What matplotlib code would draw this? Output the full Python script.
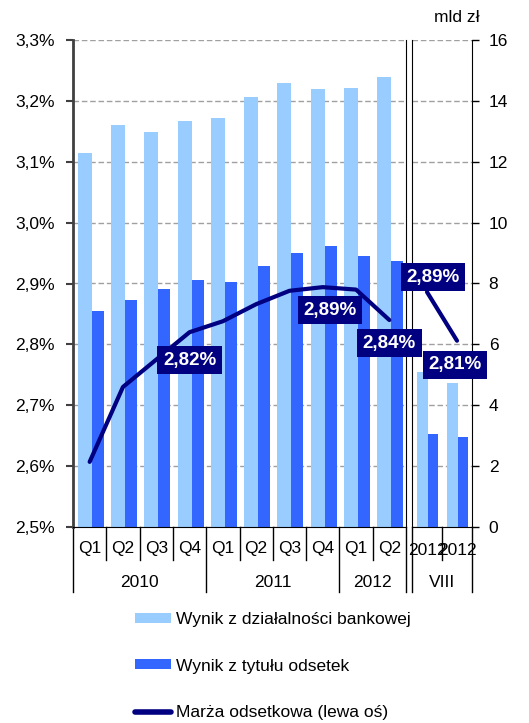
import matplotlib
matplotlib.use("Agg")
import matplotlib.pyplot as plt
import matplotlib.transforms as mtransforms
from matplotlib.patches import Patch
from matplotlib.lines import Line2D

plt.rcParams['font.family'] = ['Liberation Sans', 'DejaVu Sans']

# quarterly data 2010-2012
quarters = ["Q1", "Q2", "Q3", "Q4", "Q1", "Q2", "Q3", "Q4", "Q1", "Q2"]
years = ["2010", "2011", "2012"]
bank_result = [12.29, 13.21, 12.98, 13.34, 13.44, 14.13, 14.59, 14.39, 14.42, 14.78]
interest_result = [7.10, 7.46, 7.82, 8.11, 8.05, 8.57, 9.00, 9.23, 8.90, 8.74]
margin = [2.607, 2.730, 2.775, 2.820, 2.838, 2.866, 2.888, 2.894, 2.890, 2.840]

# monthly data, August (2011 and 2012)
viii_labels = ["2012", "2012"]
viii_bank = [5.09, 4.73]
viii_interest = [3.06, 2.96]
viii_margin = [2.886, 2.806]

LIGHT = "#99ccff"
DARK = "#3366ff"
NAVY = "#000080"
GRID = "#a0a0a0"
FS = 12.5

W, H = 529, 723
fig = plt.figure(figsize=(W / 100, H / 100), dpi=100)


def rect(x0, y0, x1, y1):
    return [x0 / W, 1 - y1 / H, (x1 - x0) / W, (y1 - y0) / H]


ax = fig.add_axes(rect(73, 40, 406, 527))
axm = ax.twinx()
axr = fig.add_axes(rect(412, 40, 472, 527))
axrm = axr.twinx()

# bars
x = list(range(len(quarters)))
ax.bar([i - 0.36 for i in x], bank_result, width=0.42, align='edge', color=LIGHT, zorder=2)
ax.bar([i + 0.06 for i in x], interest_result, width=0.36, align='edge', color=DARK, zorder=2)
xr = list(range(len(viii_labels)))
axr.bar([i - 0.33 for i in xr], viii_bank, width=0.36, align='edge', color=LIGHT, zorder=2)
axr.bar([i + 0.03 for i in xr], viii_interest, width=0.34, align='edge', color=DARK, zorder=2)

for a in (ax, axr):
    a.set_ylim(0, 16)
    a.set_yticks(range(0, 17, 2))
    a.set_axisbelow(True)
    a.grid(axis='y', linestyle=(0, (4, 2)), color=GRID, linewidth=1)
    a.set_xticks([])
    a.spines['top'].set_visible(False)
    a.spines['bottom'].set_color('black')
ax.set_xlim(-0.5, len(quarters) - 0.5)
axr.set_xlim(-0.5, len(viii_labels) - 0.5)

ax.tick_params(axis='y', left=False, right=False, labelleft=False, labelright=False)
ax.spines['left'].set_color('#404040')
ax.spines['left'].set_linewidth(2)
ax.spines['right'].set_color('black')

axr.yaxis.tick_right()
axr.tick_params(axis='y', direction='out', length=5, width=1, pad=7, labelsize=FS, colors='black')
axr.spines['left'].set_color('black')
axr.spines['right'].set_color('black')

# margin line, left scale
for a in (axm, axrm):
    a.set_ylim(2.5, 3.3)
    for s in a.spines.values():
        s.set_visible(False)
axm.yaxis.tick_left()
axm.set_yticks([2.5 + 0.1 * k for k in range(9)])
axm.set_yticklabels([f"{2.5 + 0.1 * k:.1f}%".replace(".", ",") for k in range(9)])
axm.tick_params(axis='y', direction='out', length=5, width=1.5, pad=8, labelsize=FS, color='#404040')
axrm.tick_params(axis='y', left=False, right=False, labelleft=False, labelright=False)

axm.plot(x, margin, color=NAVY, linewidth=3, solid_capstyle='round', solid_joinstyle='round')
axrm.plot(xr, viii_margin, color=NAVY, linewidth=3, solid_capstyle='round', solid_joinstyle='round')

# category separators and labels under the axes
def separators(a, bounds_short, bounds_long):
    tr = mtransforms.blended_transform_factory(a.transData, a.transAxes)
    for b in bounds_short:
        a.plot([b, b], [0, -0.068], transform=tr, color='black', lw=1, clip_on=False)
    for b in bounds_long:
        a.plot([b, b], [0, -0.134], transform=tr, color='black', lw=1, clip_on=False)
    return tr


tr = separators(ax, [0.5, 1.5, 2.5, 4.5, 5.5, 6.5, 8.5], [-0.5, 3.5, 7.5, 9.5])
for i, q in enumerate(quarters):
    ax.text(i, -0.045, q, transform=tr, ha='center', va='center', fontsize=FS)
for xc, yr in zip([1.5, 5.5, 8.5], years):
    ax.text(xc, -0.113, yr, transform=tr, ha='center', va='center', fontsize=FS)

trr = separators(axr, [0.5], [-0.5, 1.5])
for i, lab in enumerate(viii_labels):
    axr.text(i, -0.049, lab, transform=trr, ha='center', va='center', fontsize=FS)
axr.text(0.5, -0.113, "VIII", transform=trr, ha='center', va='center', fontsize=FS)

fig.text(457 / W, 1 - 17 / H, "mld zł", ha='center', va='center', fontsize=FS)

# value labels on the margin line
def value_label(a, xv, yv, dx, dy):
    t = mtransforms.offset_copy(a.transData, fig=fig, x=dx, y=dy, units='dots')
    fig.text(xv, yv, f"{yv:.2f}%".replace(".", ","), transform=t, ha='center', va='center',
             color='white', fontsize=13.5, fontweight='bold', zorder=10,
             bbox=dict(boxstyle='square,pad=0.3', facecolor=NAVY, edgecolor='none'))


value_label(axm, 3, margin[3], 0, -28)
value_label(axm, 7, margin[7], 7, -23)
value_label(axm, 9, margin[9], 0, -23)
value_label(axrm, 0, viii_margin[0], 6, 15)
value_label(axrm, 1, viii_margin[1], -2, -24)

handles = [
    Patch(facecolor=LIGHT, edgecolor='none', label="Wynik z działalności bankowej"),
    Patch(facecolor=DARK, edgecolor='none', label="Wynik z tytułu odsetek"),
    Line2D([], [], color=NAVY, linewidth=4, solid_capstyle='round', label="Marża odsetkowa (lewa oś)"),
]
fig.legend(handles=handles, loc='upper left', bbox_to_anchor=(135 / W, 1 - 612 / H),
           frameon=False, fontsize=FS, borderpad=0, borderaxespad=0,
           handlelength=2.1, handleheight=0.5, handletextpad=0.25, labelspacing=1.82)

fig.savefig("out.png", dpi=100)
